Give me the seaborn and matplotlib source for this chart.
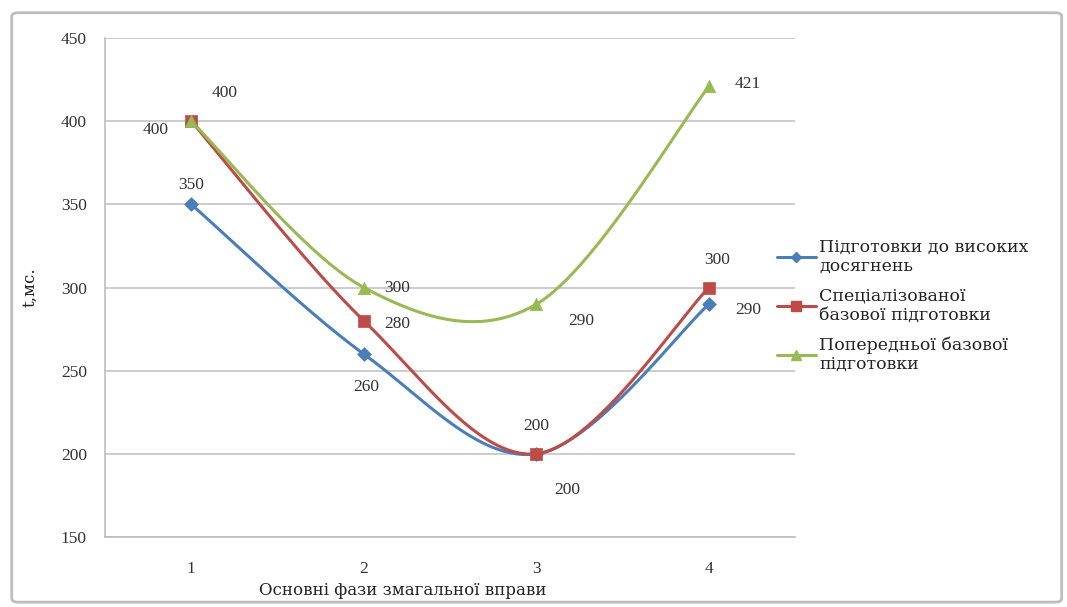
import numpy as np
import pandas as pd
import matplotlib
matplotlib.use("Agg")
import matplotlib.pyplot as plt
from matplotlib.lines import Line2D
from matplotlib.patches import FancyBboxPatch
import seaborn as sns

# Data
phases = [1, 2, 3, 4]
series_names = [
    "Підготовки до високих\nдосягнень",
    "Спеціалізованої\nбазової підготовки",
    "Попередньої базової\nпідготовки",
]
high_achievement = [350, 260, 200, 290]
specialized_base = [400, 280, 200, 300]
preliminary_base = [400, 300, 290, 421]
y_ticks = [150, 200, 250, 300, 350, 400, 450]

sns.set_theme(style="white")
plt.rcParams["font.family"] = ["Liberation Serif", "DejaVu Serif"]

colors = ["#4A7EBB", "#BE4B48", "#98B954"]
markers = ["D", "s", "^"]
marker_sizes = [7, 9, 9]
all_values = [high_achievement, specialized_base, preliminary_base]


def smooth_curve(x, y, n=60):
    """Catmull-Rom spline through the points (smoothed line style)."""
    x = np.asarray(x, float)
    y = np.asarray(y, float)
    xs, ys = [], []
    k = len(x)
    for i in range(k - 1):
        p0 = (x[i - 1], y[i - 1]) if i > 0 else (x[i], y[i])
        p1 = (x[i], y[i])
        p2 = (x[i + 1], y[i + 1])
        p3 = (x[i + 2], y[i + 2]) if i + 2 < k else (x[i + 1], y[i + 1])
        t = np.linspace(0, 1, n)
        for coord, out in ((0, xs), (1, ys)):
            a, b, c, d = p0[coord], p1[coord], p2[coord], p3[coord]
            m1 = (c - a) / 2.0
            m2 = (d - b) / 2.0
            h00 = 2 * t**3 - 3 * t**2 + 1
            h10 = t**3 - 2 * t**2 + t
            h01 = -2 * t**3 + 3 * t**2
            h11 = t**3 - t**2
            out.extend(h00 * b + h10 * m1 + h01 * c + h11 * m2)
    return np.array(xs), np.array(ys)


fig = plt.figure(figsize=(10.67, 6.07), dpi=100)
ax = fig.add_axes([0.0984, 0.1153, 0.647, 0.822])

# outer chart border
fig.patches.append(FancyBboxPatch((0.011, 0.008), 0.984, 0.971,
                                  boxstyle="round,pad=0,rounding_size=0.006",
                                  transform=fig.transFigure, fill=False,
                                  edgecolor="#bdbdbd", linewidth=2.0))

ax.set_xlim(0.5, 4.5)
ax.set_ylim(150, 450)
ax.set_yticks(y_ticks)
ax.set_xticks(phases)
ax.yaxis.grid(True, color="#c8c8c8", linewidth=1.3)
for side in ("top", "right"):
    ax.spines[side].set_visible(False)
for side in ("left", "bottom"):
    ax.spines[side].set_color("#bdbdbd")
    ax.spines[side].set_linewidth(1.2)
ax.tick_params(axis="y", labelsize=12.5, colors="#333333", length=0, pad=13)
ax.tick_params(axis="x", labelsize=12.5, colors="#333333", length=0, pad=17)

for name, vals, col in zip(series_names, all_values, colors):
    sx, sy = smooth_curve(phases, vals)
    ax.plot(sx, sy, color=col, linewidth=2.2, zorder=3)

frames = []
for name, vals in zip(series_names, all_values):
    frames.append(pd.DataFrame({"phase": phases, "value": vals, "series": name}))
df = pd.concat(frames, ignore_index=True)
for name, col, mk, ms in zip(series_names, colors, markers, marker_sizes):
    sub = df[df["series"] == name]
    sns.scatterplot(data=sub, x="phase", y="value", ax=ax, color=col,
                    marker=mk, s=ms**2, edgecolor=col, linewidth=0.5,
                    zorder=4, legend=False)

# data labels (offsets in points)
label_offsets = [
    [(0, 14), (2, -24), (22, -26), (28, -4)],
    [(-26, -6), (24, -2), (0, 20), (6, 20)],
    [(24, 20), (24, 0), (32, -12), (28, 2)],
]
for vals, offs in zip(all_values, label_offsets):
    for xv, yv, (dx, dy) in zip(phases, vals, offs):
        ax.annotate(str(yv), (xv, yv), xytext=(dx, dy), textcoords="offset points",
                    ha="center", va="center", fontsize=12.5, color="#333333",
                    zorder=5)

ax.set_xlabel("")
ax.set_ylabel("t,мс.", fontsize=12, color="#222222", labelpad=16,
              family=["DejaVu Serif"])
fig.text(0.377, 0.028, "Основні фази змагальної вправи", ha="center",
         va="center", fontsize=12, color="#222222", family=["DejaVu Serif"])

handles = [Line2D([0], [0], color=c, marker=m, markersize=ms * 0.8, linewidth=2.2)
           for c, m, ms in zip(colors, markers, marker_sizes)]
leg = fig.legend(handles, series_names, loc="upper left",
                 bbox_to_anchor=(0.722, 0.618), frameon=False,
                 prop={"family": ["DejaVu Serif"], "size": 12.5},
                 handlelength=2.2, handletextpad=0.2, labelspacing=0.75,
                 borderaxespad=0)
for t in leg.get_texts():
    t.set_color("#222222")
    t.set_linespacing(1.15)

fig.savefig("out.png", dpi=100)
